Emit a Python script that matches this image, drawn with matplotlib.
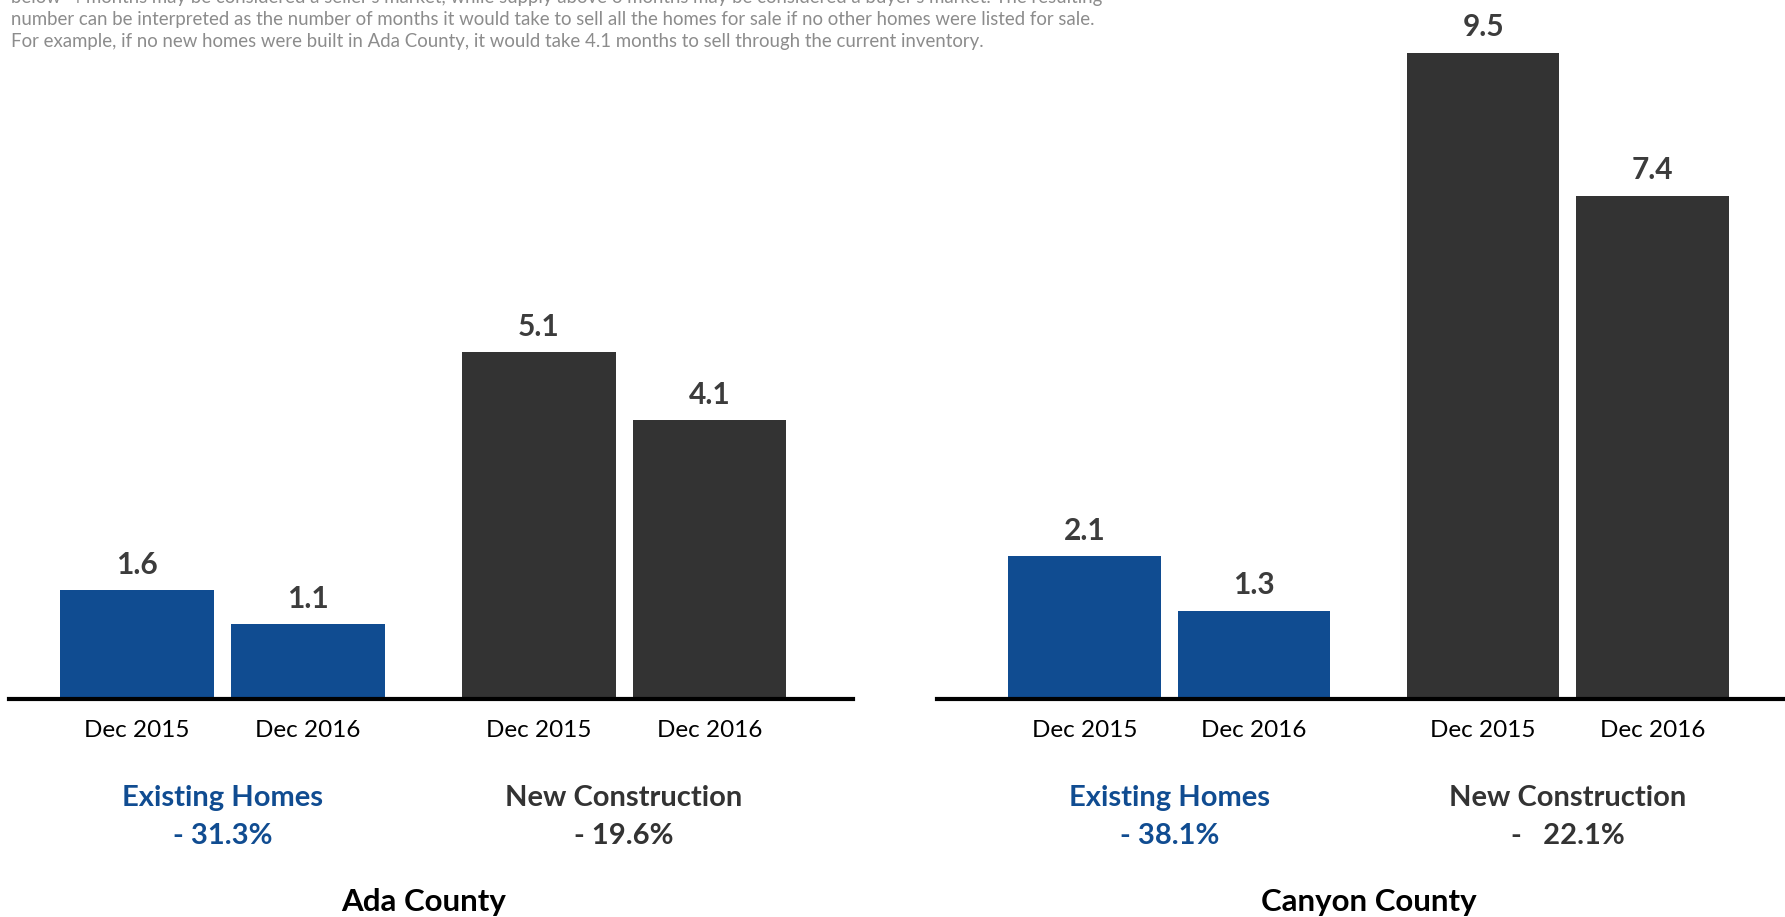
import matplotlib.pyplot as plt

plt.rcParams['font.family'] = ['Lato', 'DejaVu Sans']

BLUE = '#104c91'
DARK = '#333333'

periods = ['Dec 2015', 'Dec 2016', 'Dec 2015', 'Dec 2016']
groups = ['Existing Homes', 'New Construction']
counties = ['Ada County', 'Canyon County']
ada_months = [1.6, 1.1, 5.1, 4.1]
canyon_months = [2.1, 1.3, 9.5, 7.4]
ada_change = ['- 31.3%', '- 19.6%']
canyon_change = ['- 38.1%', '-   22.1%']

note = [
    "below  4 months may be considered a seller's market, while supply above 6 months may be considered a buyer's market. The resulting",
    "number can be interpreted as the number of months it would take to sell all the homes for sale if no other homes were listed for sale.",
    "For example, if no new homes were built in Ada County, it would take 4.1 months to sell through the current inventory.",
]

W, H = 1785, 917
fig = plt.figure(figsize=(W / 100, H / 100), dpi=100)

pos = [0, 1, 2.35, 3.35]
bar_colors = [BLUE, BLUE, DARK, DARK]
ytop = 699 / 68.0


def panel(rect, xlim, values, changes, county):
    ax = fig.add_axes(rect)
    ax.bar(pos, values, width=0.9, color=bar_colors, zorder=2)
    ax.set_xlim(*xlim)
    ax.set_ylim(0, ytop)
    for s in ['top', 'left', 'right']:
        ax.spines[s].set_visible(False)
    ax.spines['bottom'].set_linewidth(3)
    ax.spines['bottom'].set_color('black')
    ax.set_yticks([])
    ax.set_xticks(pos, periods)
    ax.tick_params(axis='x', length=0, pad=15, labelsize=17.5, labelcolor='black')
    for x, v in zip(pos, values):
        ax.annotate(f'{v:.1f}', (x, v), xytext=(0, 12), textcoords='offset points',
                    ha='center', va='baseline', fontsize=21.5, fontweight='bold',
                    color='#3c3c3c')
    for i, (g, c) in enumerate(zip(groups, changes)):
        gx = (pos[2 * i] + pos[2 * i + 1]) / 2
        col = BLUE if i == 0 else DARK
        ax.text(gx, -1.45, g, ha='center', va='center', fontsize=21,
                fontweight='bold', color=col, clip_on=False)
        ax.text(gx, -2.02, c, ha='center', va='center', fontsize=21,
                fontweight='bold', color=col, clip_on=False)
    ax.text((pos[0] + pos[-1]) / 2, -2.98, county, ha='center', va='center',
            fontsize=22.5, fontweight='bold', color='black', clip_on=False)
    return ax


bottom = (H - 699) / H
height = 699 / H
panel([9 / W, bottom, 844 / W, height], (-0.75, 4.19), ada_months, ada_change, counties[0])
panel([937 / W, bottom, 848 / W, height], (-0.87, 4.13), canyon_months, canyon_change, counties[1])

# explanatory note, first line runs off the top edge
for i, line in enumerate(note):
    y = -3 + 22 * i
    fig.text(11 / W, 1 - y / H, line, ha='left', va='center', fontsize=13.4,
             color='#8c8c8c')

fig.savefig('out.png', dpi=100)
